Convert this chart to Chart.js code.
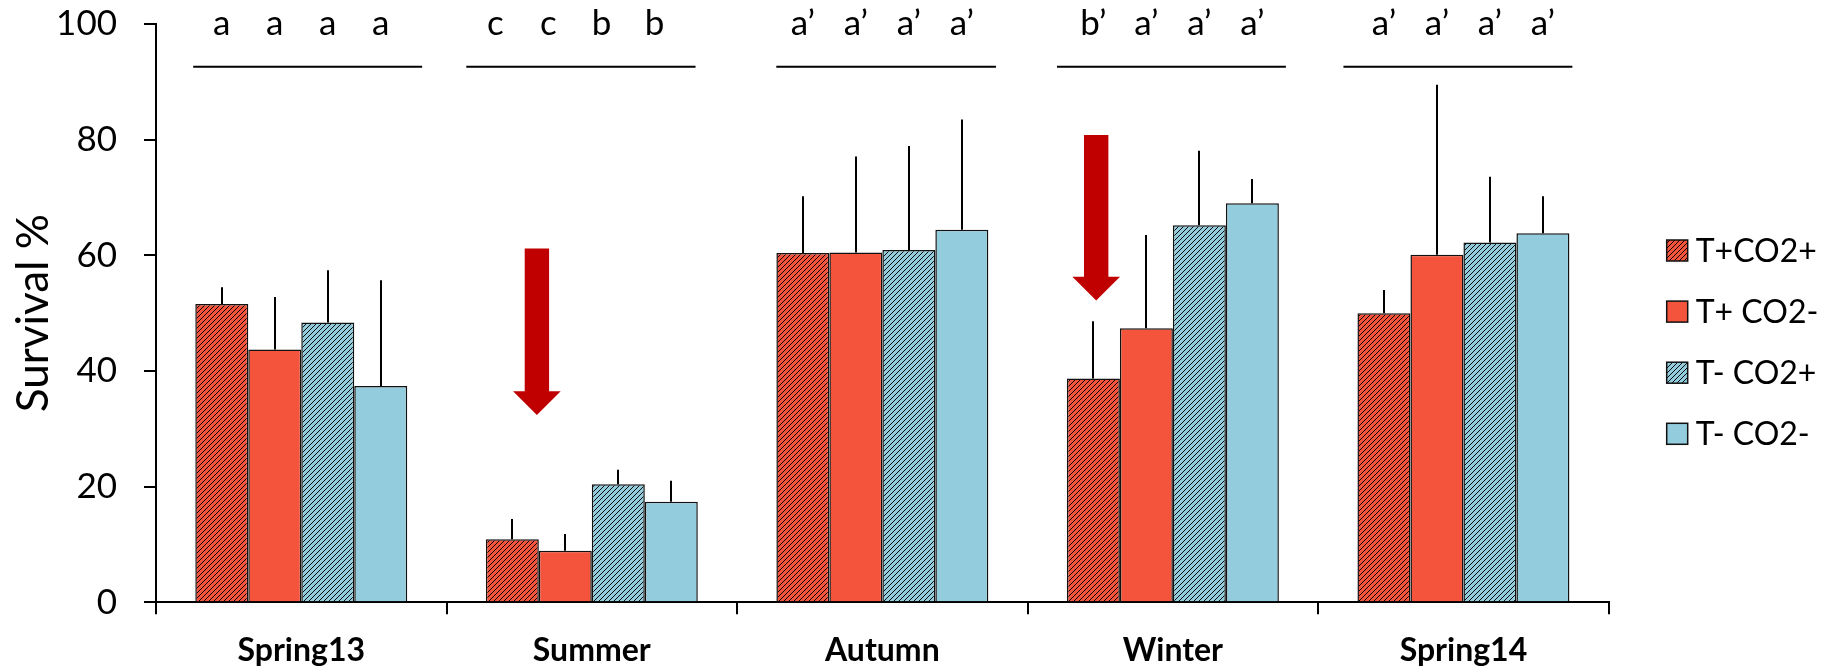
<!DOCTYPE html>
<html>
<head>
<meta charset="utf-8">
<script src="https://cdn.jsdelivr.net/npm/chart.js@4/dist/chart.umd.min.js"></script>
<style>
  html, body { margin: 0; padding: 0; background: #ffffff; }
  #wrap { width: 1823px; height: 670px; }
</style>
</head>
<body>
<div id="wrap"><canvas id="c" width="1823" height="670"></canvas></div>
<script>
// ---------- data ----------
const categories = ["Spring13", "Summer", "Autumn", "Winter", "Spring14"];
const seriesNames = ["T+CO2+", "T+ CO2-", "T- CO2+", "T- CO2-"];

const tPlusCO2Plus   = [51.6, 10.9, 60.4, 38.7, 50.0];
const tPlusCO2Minus  = [43.7,  8.9, 60.5, 47.4, 60.1];
const tMinusCO2Plus  = [48.4, 20.4, 60.9, 65.2, 62.2];
const tMinusCO2Minus = [37.4, 17.4, 64.4, 69.0, 63.8];

// upper error (SD) for each series
const errTPlusCO2Plus   = [2.9,  3.5,  9.8,  9.9,  4.0];
const errTPlusCO2Minus  = [9.1,  2.9, 16.6, 16.1, 29.4];
const errTMinusCO2Plus  = [9.0,  2.5, 18.0, 12.9, 11.4];
const errTMinusCO2Minus = [18.3, 3.6, 19.1,  4.2,  6.4];

// significance letters (per category, per series)
const sigLetters = [
  ["a", "a", "a", "a"],
  ["c", "c", "b", "b"],
  ["a\u2019", "a\u2019", "a\u2019", "a\u2019"],
  ["b\u2019", "a\u2019", "a\u2019", "a\u2019"],
  ["a\u2019", "a\u2019", "a\u2019", "a\u2019"]
];

const yMin = 0, yMax = 100, yStep = 20;
const yTitle = "Survival %";

// ---------- annotation layout (in scale units) ----------
const annot = {
  letterValue: 98.1,
  lineValue: 92.6,
  lineSpan: [[-0.372, 0.416], [-0.432, 0.357], [-0.365, 0.391], [-0.399, 0.389], [-0.413, 0.375]],
  letterShift: [0, -0.058, 0, 0, 0],
  arrows: [
    { cat: 1, offset: -0.189, top: 61.2, base: 36.5, tip: 32.4 },
    { cat: 3, offset: -0.264, top: 80.8, base: 56.3, tip: 52.2 }
  ],
  shaftW: 0.084,
  headW: 0.164
};

// ---------- styles ----------
const RED = "#F5543C";
const BLUE = "#93CDDD";
const ARROW = "#C00000";
const FONT = "Lato, 'Open Sans', sans-serif";

function hatch(color, size, lw) {
  const c = document.createElement("canvas");
  c.width = size; c.height = size;
  const g = c.getContext("2d");
  g.fillStyle = color;
  g.fillRect(0, 0, size, size);
  g.strokeStyle = "#000";
  g.lineWidth = lw;
  g.beginPath();
  g.moveTo(-1, size + 1); g.lineTo(size + 1, -1);
  g.moveTo(-1, 1); g.lineTo(1, -1);
  g.moveTo(size - 1, size + 1); g.lineTo(size + 1, size - 1);
  g.stroke();
  return g.createPattern(c, "repeat");
}

const ctx = document.getElementById("c").getContext("2d");
const redHatch = hatch(RED, 5, 0.95);
const blueHatch = hatch(BLUE, 5, 0.95);

const values = [tPlusCO2Plus, tPlusCO2Minus, tMinusCO2Plus, tMinusCO2Minus];
const errors = [errTPlusCO2Plus, errTPlusCO2Minus, errTMinusCO2Plus, errTMinusCO2Minus];
const fills = [redHatch, RED, blueHatch, BLUE];

const datasets = seriesNames.map((name, i) => ({
  label: name,
  data: values[i],
  backgroundColor: fills[i],
  borderColor: "#111",
  borderWidth: 1.5,
  barPercentage: 1.0,
  categoryPercentage: 0.7295
}));

const annotationPlugin = {
  id: "annotations",
  afterDatasetsDraw(chart) {
    const c = chart.ctx;
    const xs = chart.scales.x, ys = chart.scales.y;
    const cw = xs.getPixelForValue(1) - xs.getPixelForValue(0);
    c.save();
    // error bars
    c.strokeStyle = "#000";
    c.lineWidth = 2;
    chart.data.datasets.forEach((ds, di) => {
      const meta = chart.getDatasetMeta(di);
      meta.data.forEach((bar, j) => {
        const top = ys.getPixelForValue(ds.data[j] + errors[di][j]);
        const x = Math.round(bar.x);
        c.beginPath();
        c.moveTo(x, bar.y);
        c.lineTo(x, top);
        c.stroke();
      });
    });
    // significance lines and letters
    c.fillStyle = "#000";
    c.font = "35px " + FONT;
    c.textAlign = "center";
    c.textBaseline = "alphabetic";
    const ly = ys.getPixelForValue(annot.letterValue);
    const lineY = ys.getPixelForValue(annot.lineValue);
    categories.forEach((cat, j) => {
      const cx = xs.getPixelForValue(j);
      c.beginPath();
      c.lineWidth = 2;
      c.moveTo(cx + annot.lineSpan[j][0] * cw, lineY);
      c.lineTo(cx + annot.lineSpan[j][1] * cw, lineY);
      c.stroke();
      chart.data.datasets.forEach((ds, di) => {
        const bar = chart.getDatasetMeta(di).data[j];
        c.fillText(sigLetters[j][di], bar.x + annot.letterShift[j] * cw, ly);
      });
    });
    // arrows
    c.fillStyle = ARROW;
    annot.arrows.forEach(a => {
      const cx = xs.getPixelForValue(a.cat) + a.offset * cw;
      const sw = annot.shaftW * cw / 2, hw = annot.headW * cw / 2;
      const yt = ys.getPixelForValue(a.top), yb = ys.getPixelForValue(a.base), yp = ys.getPixelForValue(a.tip);
      c.beginPath();
      c.moveTo(cx - sw, yt);
      c.lineTo(cx + sw, yt);
      c.lineTo(cx + sw, yb);
      c.lineTo(cx + hw, yb);
      c.lineTo(cx, yp);
      c.lineTo(cx - hw, yb);
      c.lineTo(cx - sw, yb);
      c.closePath();
      c.fill();
    });
    c.restore();
  },
  afterDraw(chart) {
    // legend on the right
    const c = chart.ctx;
    const area = chart.chartArea;
    c.save();
    const bx = area.right + 58;
    const box = 21;
    c.font = "32px " + FONT;
    c.textAlign = "left";
    c.textBaseline = "middle";
    chart.data.datasets.forEach((ds, i) => {
      const top = 240 + i * 61.1;
      c.fillStyle = ds.backgroundColor;
      c.fillRect(bx, top, box, box);
      c.strokeStyle = "#111";
      c.lineWidth = 1.5;
      c.strokeRect(bx, top, box, box);
      c.fillStyle = "#000";
      c.fillText(ds.label, bx + 29, top + box / 2 + 1);
    });
    c.restore();
  }
};

new Chart(ctx, {
  type: "bar",
  data: { labels: categories, datasets },
  options: {
    responsive: false,
    animation: false,
    layout: { padding: { left: 0, right: 214.3, top: 24, bottom: 0 } },
    plugins: {
      legend: { display: false },
      tooltip: { enabled: false }
    },
    scales: {
      x: {
        offset: true,
        grid: { display: true, drawOnChartArea: false, drawTicks: true, tickLength: 12, color: "#000", lineWidth: 2, offset: true },
        border: { display: true, color: "#000", width: 2 },
        ticks: { color: "#000", padding: 17, font: { family: FONT, size: 32, weight: "bold" }, maxRotation: 0 },
        afterFit(scale) { scale.height = 67.7; scale.paddingLeft = 0; scale.paddingRight = 0; }
      },
      y: {
        min: yMin, max: yMax,
        ticks: { stepSize: yStep, color: "#000", padding: 27, font: { family: FONT, size: 35 } },
        grid: { display: true, drawOnChartArea: false, drawTicks: true, tickLength: 12, color: "#000", lineWidth: 2 },
        border: { display: true, color: "#000", width: 2 },
        title: { display: true, text: yTitle, color: "#000", font: { family: FONT, size: 44 }, padding: { top: 7, bottom: 0 } },
        afterFit(scale) { scale.width = 156; scale.paddingTop = 0; scale.paddingBottom = 0; }
      }
    }
  },
  plugins: [annotationPlugin]
});
</script>
</body>
</html>
